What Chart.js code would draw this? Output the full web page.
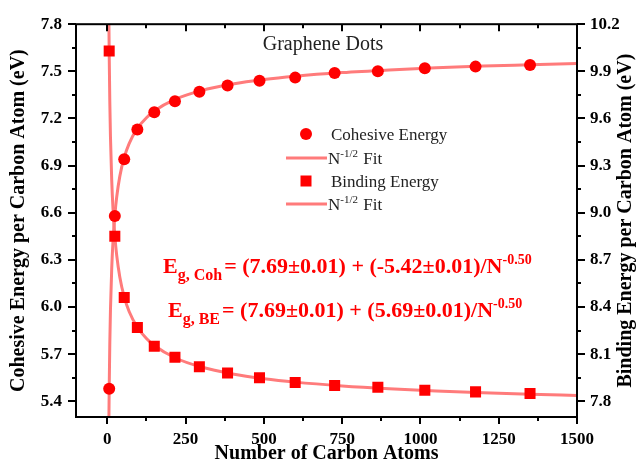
<!DOCTYPE html>
<html>
<head>
<meta charset="utf-8">
<script src="https://cdn.jsdelivr.net/npm/chart.js@4.4.1/dist/chart.umd.min.js"></script>
<style>
  html, body { margin: 0; padding: 0; background: #fff; }
  canvas { display: block; }
</style>
</head>
<body>
<canvas id="c" width="639" height="469"></canvas>
<script>
// Graphene dots: cohesive / binding energy vs number of carbon atoms

// ── Data ─────────────────────────────────────────────────
const atoms    = [6, 24, 54, 96, 150, 216, 294, 384, 486, 600, 726, 864, 1014, 1176, 1350];
const cohesive = [5.48, 6.58, 6.94, 7.13, 7.24, 7.31, 7.37, 7.41, 7.44, 7.46, 7.49, 7.50, 7.52, 7.53, 7.54];
const binding  = [10.03, 8.85, 8.46, 8.27, 8.15, 8.08, 8.02, 7.98, 7.95, 7.92, 7.90, 7.89, 7.87, 7.86, 7.85];

// fit curves, sampled along the drawn lines
const fitAtoms    = [3, 4, 5, 6, 8, 10, 14, 18, 24, 30, 40, 54, 70, 96, 125, 150, 216, 300, 400, 500, 600, 750, 900, 1050, 1200, 1350, 1500];
const cohesiveFit = [4.561, 4.98, 5.266, 5.477, 5.774, 5.976, 6.241, 6.413, 6.584, 6.700, 6.833, 6.952, 7.042, 7.137, 7.205, 7.247, 7.321, 7.377, 7.419, 7.448, 7.469, 7.492, 7.509, 7.523, 7.534, 7.542, 7.550];
const bindingFit  = [10.975, 10.535, 10.235, 10.013, 9.702, 9.489, 9.211, 9.031, 8.851, 8.729, 8.590, 8.464, 8.370, 8.271, 8.199, 8.155, 8.077, 8.018, 7.974, 7.944, 7.922, 7.898, 7.880, 7.866, 7.854, 7.845, 7.837];

const xTicks      = [0, 250, 500, 750, 1000, 1250, 1500];
const yLeftTicks  = [5.4, 5.7, 6.0, 6.3, 6.6, 6.9, 7.2, 7.5, 7.8];
const yRightTicks = [7.8, 8.1, 8.4, 8.7, 9.0, 9.3, 9.6, 9.9, 10.2];

const SERIF = '"Liberation Serif", "Times New Roman", serif';
const RED  = '#ff0000';
const PINK = '#ff7b7b';

const pts = (xs, ys) => xs.map((x, i) => ({ x, y: ys[i] }));
const mids = arr => arr.slice(1).map((v, i) => (v + arr[i]) / 2);

// rich text: parts = [[text, size, dy, gap]]
function drawRich(ctx, x, y, parts, weight, color) {
  ctx.fillStyle = color;
  ctx.textBaseline = 'alphabetic';
  ctx.textAlign = 'left';
  parts.forEach(([t, size, dy, gap]) => {
    ctx.font = `${weight} ${size}px ${SERIF}`;
    ctx.fillText(t, x, y + (dy || 0));
    x += ctx.measureText(t).width + (gap || 0);
  });
}

// frame + major/minor ticks (top ticks point inward)
const framePlugin = {
  id: 'frame',
  afterDraw(chart) {
    const { ctx, chartArea: a, scales: { x, y, y2 } } = chart;
    ctx.save();
    ctx.strokeStyle = '#000';
    ctx.lineWidth = 2;
    ctx.strokeRect(a.left, a.top, a.right - a.left, a.bottom - a.top);
    ctx.beginPath();
    const hx = (vals, len) => vals.forEach(v => {
      const px = Math.round(x.getPixelForValue(v));
      ctx.moveTo(px, a.bottom); ctx.lineTo(px, a.bottom + len);
      ctx.moveTo(px, a.top);    ctx.lineTo(px, a.top + len);
    });
    hx(xTicks, 7); hx(mids(xTicks), 4);
    const vl = (vals, len) => vals.forEach(v => {
      const py = Math.round(y.getPixelForValue(v));
      ctx.moveTo(a.left, py); ctx.lineTo(a.left - len, py);
    });
    vl(yLeftTicks, 8); vl(mids(yLeftTicks), 4);
    const vr = (vals, len) => vals.forEach(v => {
      const py = Math.round(y2.getPixelForValue(v));
      ctx.moveTo(a.right, py); ctx.lineTo(a.right + len, py);
    });
    vr(yRightTicks, 8); vr(mids(yRightTicks), 4);
    ctx.stroke();

    // right axis title, reads bottom to top
    ctx.translate(626, (a.top + a.bottom) / 2);
    ctx.rotate(-Math.PI / 2);
    ctx.font = `bold 20px ${SERIF}`;
    ctx.fillStyle = '#000';
    ctx.textAlign = 'center';
    ctx.textBaseline = 'middle';
    ctx.fillText('Binding Energy per Carbon Atom (eV)', 0, 0);
    ctx.restore();
  }
};

// in-plot legend, title and fit equations
const notesPlugin = {
  id: 'notes',
  afterDatasetsDraw(chart) {
    const { ctx } = chart;
    ctx.save();
    ctx.font = `20px ${SERIF}`;
    ctx.fillStyle = '#222';
    ctx.textAlign = 'center';
    ctx.textBaseline = 'alphabetic';
    ctx.fillText('Graphene Dots', 323, 50);

    const rows = [134, 158, 181, 204];
    chart.data.datasets.forEach((ds, i) => {
      const yy = rows[i];
      if (ds.showLine === false) {
        ctx.fillStyle = ds.backgroundColor;
        if (ds.pointStyle === 'rect') ctx.fillRect(306 - 5.5, yy - 5.5, 11, 11);
        else { ctx.beginPath(); ctx.arc(306, yy, 6, 0, Math.PI * 2); ctx.fill(); }
        drawRich(ctx, 331, yy + 6, [[ds.label, 17]], 'normal', '#222');
      } else {
        ctx.strokeStyle = ds.borderColor;
        ctx.lineWidth = 3;
        ctx.beginPath(); ctx.moveTo(286, yy); ctx.lineTo(327, yy); ctx.stroke();
        drawRich(ctx, 328, yy + 6, [['N', 17], ['-1/2', 11, -7, 1], [' Fit', 17]], 'normal', '#222');
      }
    });

    drawRich(ctx, 163, 273, [['E', 22], ['g, Coh', 16, 7, 2], ['= (7.69\u00b10.01) + (-5.42\u00b10.01)/N', 22], ['-0.50', 14, -9]], 'bold', RED);
    drawRich(ctx, 168, 317, [['E', 22], ['g, BE', 16, 7, 2], ['= (7.69\u00b10.01) + (5.69\u00b10.01)/N', 22], ['-0.50', 14, -9]], 'bold', RED);
    ctx.restore();
  }
};

const tickFont = { family: SERIF, size: 17, weight: 'bold' };
const noGrid = { display: false, drawTicks: false };

new Chart(document.getElementById('c'), {
  type: 'scatter',
  data: {
    datasets: [
      { label: 'Cohesive Energy', data: pts(atoms, cohesive), yAxisID: 'y', showLine: false,
        pointStyle: 'circle', pointRadius: 6, backgroundColor: RED, borderWidth: 0, order: 0 },
      { label: 'N-1/2 Fit', type: 'line', data: pts(fitAtoms, cohesiveFit), yAxisID: 'y',
        borderColor: PINK, borderWidth: 3, pointRadius: 0, cubicInterpolationMode: 'monotone', fill: false, order: 1 },
      { label: 'Binding Energy', data: pts(atoms, binding), yAxisID: 'y2', showLine: false,
        pointStyle: 'rect', pointRadius: 7.8, backgroundColor: RED, borderWidth: 0, order: 0 },
      { label: 'N-1/2 Fit', type: 'line', data: pts(fitAtoms, bindingFit), yAxisID: 'y2',
        borderColor: PINK, borderWidth: 3, pointRadius: 0, cubicInterpolationMode: 'monotone', fill: false, order: 1 },
    ],
  },
  options: {
    responsive: false,
    animation: false,
    devicePixelRatio: 1,
    layout: { padding: { top: 20, left: 0, right: 0, bottom: 0 } },
    plugins: { legend: { display: false }, tooltip: { enabled: false } },
    scales: {
      x: {
        type: 'linear', position: 'bottom', min: -100, max: 1500,
        afterBuildTicks: s => { s.ticks = xTicks.map(v => ({ value: v })); },
        afterFit: s => { s.height = 52; },
        ticks: { font: tickFont, color: '#000', padding: 12, maxRotation: 0, autoSkip: false, callback: v => String(v) },
        grid: noGrid, border: { display: false },
        title: { display: true, text: 'Number of Carbon Atoms', color: '#000',
                 font: { family: SERIF, size: 20, weight: 'bold' }, padding: { top: 0, bottom: 3 } },
      },
      y: {
        type: 'linear', position: 'left', min: 5.3, max: 7.8,
        afterBuildTicks: s => { s.ticks = yLeftTicks.map(v => ({ value: v })); },
        afterFit: s => { s.width = 76; },
        ticks: { font: tickFont, color: '#000', padding: 14, callback: v => v.toFixed(1) },
        grid: noGrid, border: { display: false },
        title: { display: true, text: 'Cohesive Energy per Carbon Atom (eV)', color: '#000',
                 font: { family: SERIF, size: 20, weight: 'bold' }, padding: { top: 7, bottom: 0 } },
      },
      y2: {
        type: 'linear', position: 'right', min: 7.7, max: 10.2,
        afterBuildTicks: s => { s.ticks = yRightTicks.map(v => ({ value: v })); },
        afterFit: s => { s.width = 62; },
        ticks: { font: tickFont, color: '#000', padding: 13, callback: v => v.toFixed(1) },
        grid: noGrid, border: { display: false },
      },
    },
  },
  plugins: [framePlugin, notesPlugin],
});
</script>
</body>
</html>
